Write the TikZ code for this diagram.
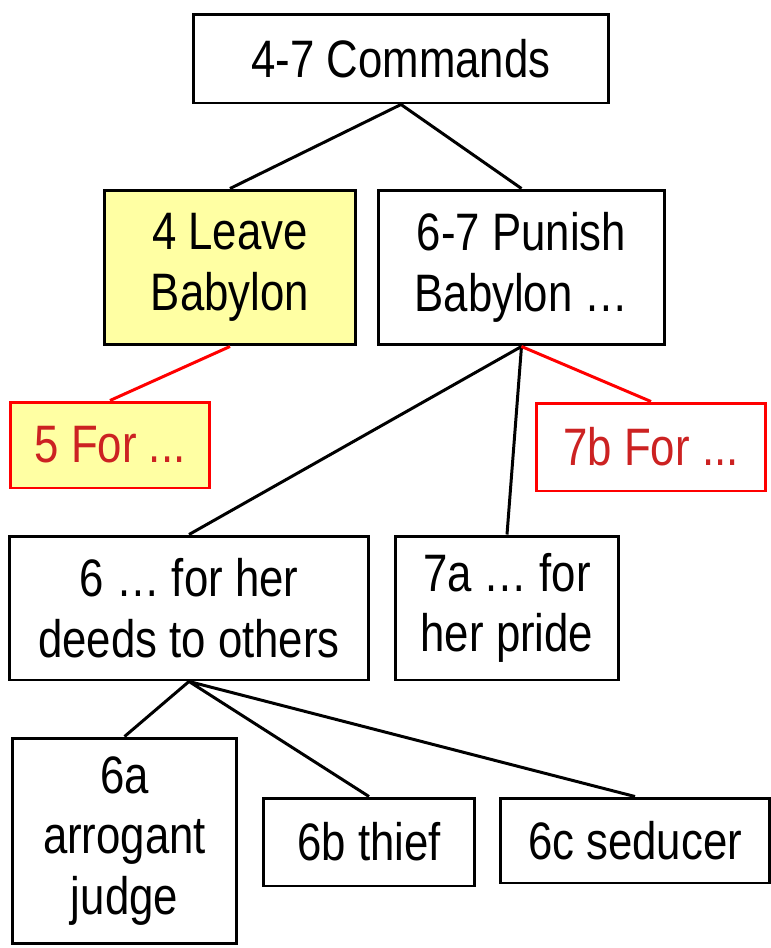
\documentclass[tikz,border=0pt]{standalone}
\usepackage{fontspec}
\setmainfont{Liberation Sans}[FakeStretch=0.83]
\definecolor{paleyellow}{HTML}{FFFFA3}
\definecolor{forred}{HTML}{CC2222}
\begin{document}
\begin{tikzpicture}[x=0.02cm,y=-0.02cm,line width=1.7pt,
  box/.style={draw,fill=white,align=center,inner sep=0pt,
    font=\fontsize{30}{34.5}\selectfont},
  redbox/.style={box,draw=red,text=forred}]
\useasboundingbox (0,0) rectangle (771,948);

% boxes
\node[box,minimum width=8.32cm,minimum height=1.78cm] (cmd) at (401,58.5) {4-7 Commands};
\node[box,fill=paleyellow,minimum width=5.04cm,minimum height=3.1cm] (leave) at (230,267.5) {4 Leave\\Babylon};
\node[box,minimum width=5.74cm,minimum height=3.1cm] (punish) at (521.5,267.5) {6-7 Punish\\Babylon …};
\node[redbox,fill=paleyellow,minimum width=4cm,minimum height=1.72cm] (for5) at (110,445) {5 For ...};
\node[redbox,minimum width=4.6cm,minimum height=1.76cm] (for7b) at (651,447) {7b For ...};
\node[box,minimum width=7.2cm,minimum height=2.88cm] (deeds) at (189,608) {6 … for her\\deeds to others};
\node[box,minimum width=4.48cm,minimum height=2.88cm] (pride) at (507,608) {7a … for\\her pride};
\node[box,minimum width=4.5cm,minimum height=4.12cm] (judge) at (124.5,841) {6a\\arrogant\\judge};
\node[box,minimum width=4.24cm,minimum height=1.76cm] (thief) at (369,842) {6b thief};
\node[box,minimum width=5.4cm,minimum height=1.7cm] (seducer) at (635,840.5) {6c seducer};

% links
\draw (cmd.south) -- (leave.north) (cmd.south) -- (punish.north)
      (punish.south) -- (deeds.north) (punish.south) -- (pride.north)
      (deeds.south) -- (judge.north) (deeds.south) -- (thief.north)
      (deeds.south) -- (seducer.north);
\draw[red] (leave.south) -- (for5.north) (punish.south) -- (for7b.north);
\end{tikzpicture}
\end{document}
